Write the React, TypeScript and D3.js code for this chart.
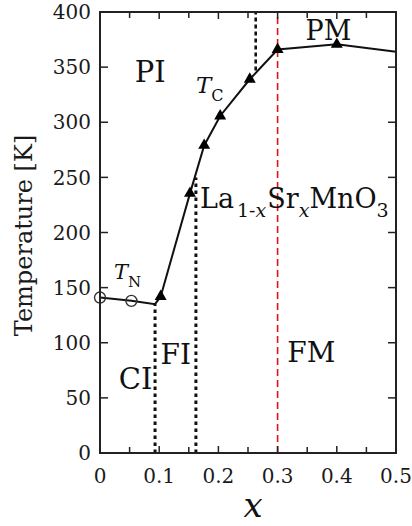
import React from "react";
import * as d3 from "d3";

const W = 412;
const H = 526;

// T_N (open circles) and T_C (filled triangles) data
const tnX = [0, 0.053];
const tnT = [141, 138];
const tcX = [0.1025, 0.152, 0.176, 0.203, 0.253, 0.3, 0.4];
const tcT = [142, 235.5, 279, 305.7, 339, 366, 370.7];
// full boundary line
const lineX = [0, 0.053, 0.093, 0.1025, 0.152, 0.176, 0.203, 0.253, 0.3, 0.4, 0.5];
const lineT = [141, 138, 135, 142, 235.5, 279, 305.7, 339, 366, 370.7, 364];

const xTicks = [0, 0.1, 0.2, 0.3, 0.4, 0.5];
const xTickLabels = ["0", "0.1", "0.2", "0.3", "0.4", "0.5"];
const xMinor = [0.05, 0.15, 0.25, 0.35, 0.45];
const yTicks = [0, 50, 100, 150, 200, 250, 300, 350, 400];

// phase boundaries: [x, Tbottom, Ttop]
const dottedLines = [
  [0.093, 0, 135],
  [0.162, 0, 250],
];
const dashedBlack = [0.263, 347, 400];
const redLine = [0.3, 0, 400];

const FONT = "'DejaVu Serif', serif";

export default function App() {
  const x = d3.scaleLinear().domain([0, 0.5]).range([100, 396]);
  const y = d3.scaleLinear().domain([0, 400]).range([453, 12]);
  const line = d3
    .line<number>()
    .x((_, i) => x(lineX[i]))
    .y((d) => y(d));
  const tri = d3.symbol().type(d3.symbolTriangle).size(62)();

  return (
    <svg
      width={W}
      height={H}
      style={{ position: "absolute", left: 0, top: 0, background: "#fff" }}
      fontFamily={FONT}
    >
      {/* red dashed line x=0.3 */}
      <line
        x1={x(redLine[0])}
        x2={x(redLine[0])}
        y1={y(redLine[1])}
        y2={y(redLine[2])}
        stroke="#e3121b"
        strokeWidth={1.6}
        strokeDasharray="7 4"
      />
      {dottedLines.map((d, i) => (
        <line
          key={i}
          x1={x(d[0])}
          x2={x(d[0])}
          y1={y(d[1])}
          y2={y(d[2])}
          stroke="#111"
          strokeWidth={3}
          strokeDasharray="3.5 3.5"
        />
      ))}
      <line
        x1={x(dashedBlack[0])}
        x2={x(dashedBlack[0])}
        y1={y(dashedBlack[1])}
        y2={y(dashedBlack[2])}
        stroke="#111"
        strokeWidth={2.6}
        strokeDasharray="4 3"
      />

      {/* boundary line */}
      <path d={line(lineT) || ""} fill="none" stroke="#111" strokeWidth={2} />
      {tnX.map((v, i) => (
        <circle
          key={i}
          cx={x(v)}
          cy={y(tnT[i])}
          r={5.5}
          fill="none"
          stroke="#333"
          strokeWidth={1.4}
        />
      ))}
      {tcX.map((v, i) => (
        <path key={i} d={tri || ""} transform={`translate(${x(v)},${y(tcT[i])})`} fill="#000" />
      ))}

      {/* frame */}
      <rect x={100} y={12} width={296} height={441} fill="none" stroke="#222" strokeWidth={2} />

      {/* ticks */}
      {xTicks.map((t, i) => (
        <g key={"xt" + i}>
          <line x1={x(t)} x2={x(t)} y1={453} y2={446} stroke="#222" strokeWidth={1.5} />
          <line x1={x(t)} x2={x(t)} y1={12} y2={19} stroke="#222" strokeWidth={1.5} />
          <text
            x={x(t)}
            y={483}
            textAnchor="middle"
            fontSize={20}
            fill="#1a1a1a"
          >
            {xTickLabels[i]}
          </text>
        </g>
      ))}
      {xMinor.map((t, i) => (
        <g key={"xm" + i}>
          <line x1={x(t)} x2={x(t)} y1={453} y2={447} stroke="#222" strokeWidth={1.5} />
          <line x1={x(t)} x2={x(t)} y1={12} y2={18} stroke="#222" strokeWidth={1.5} />
        </g>
      ))}
      {yTicks.map((t, i) => (
        <g key={"yt" + i}>
          <line x1={100} x2={108} y1={y(t)} y2={y(t)} stroke="#222" strokeWidth={1.5} />
          <line x1={396} x2={388} y1={y(t)} y2={y(t)} stroke="#222" strokeWidth={1.5} />
          <text
            x={91}
            y={y(t)}
            dy="0.36em"
            textAnchor="end"
            fontSize={20}
            fill="#1a1a1a"
          >
            {t}
          </text>
        </g>
      ))}

      {/* axis titles */}
      <text
        transform={`translate(32,235.5) rotate(-90)`}
        textAnchor="middle"
        fontSize={24}
        fill="#1a1a1a"
      >
        Temperature [K]
      </text>
      <text x={253} y={517} textAnchor="middle" fontSize={34} fontStyle="italic" fill="#111">
        x
      </text>

      {/* phase labels */}
      <text x={x(0.085)} y={82} textAnchor="middle" fontSize={29} fill="#111">PI</text>
      <text x={x(0.06)} y={389} textAnchor="middle" fontSize={29} fill="#111">CI</text>
      <text x={x(0.128)} y={364} textAnchor="middle" fontSize={28} fill="#111">FI</text>
      <text x={x(0.357)} y={362} textAnchor="middle" fontSize={28} fill="#111">FM</text>
      <text x={x(0.386)} y={40} textAnchor="middle" fontSize={27} fill="#111">PM</text>

      <text x={196} y={93} fontSize={23} fill="#111">
        <tspan fontStyle="italic">T</tspan>
        <tspan fontSize={16} dy={8}>C</tspan>
      </text>
      <text x={114} y={279} fontSize={21} fill="#111">
        <tspan fontStyle="italic">T</tspan>
        <tspan fontSize={15} dy={8}>N</tspan>
      </text>

      <text x={200} y={208} fontSize={27} fill="#111">
        <tspan>La</tspan>
        <tspan fontSize={19} dy={9} dx={3}>1-</tspan>
        <tspan fontSize={19} fontStyle="italic">x</tspan>
        <tspan dy={-9} dx={1}>Sr</tspan>
        <tspan fontSize={19} dy={9} fontStyle="italic">x</tspan>
        <tspan dy={-9}>MnO</tspan>
        <tspan fontSize={19} dy={9}>3</tspan>
      </text>
    </svg>
  );
}
